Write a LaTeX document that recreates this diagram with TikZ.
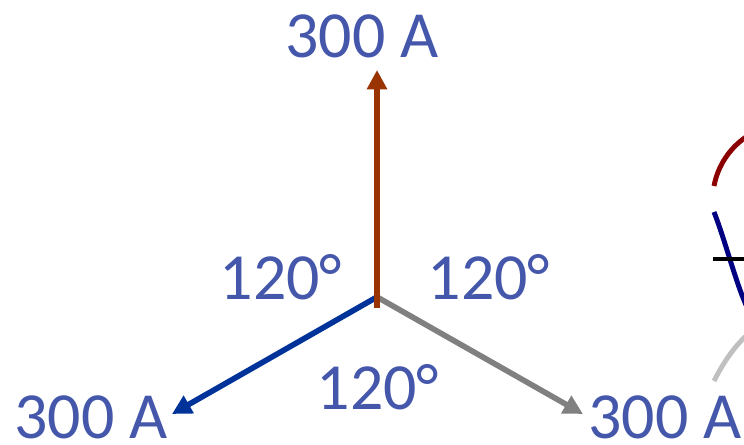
\documentclass[tikz,border=0pt]{standalone}
\usepackage{fontspec}
\setmainfont{Carlito}
\usepackage{tikz}
\usetikzlibrary{arrows.meta,positioning,calc}
\definecolor{figText}{HTML}{4457AA}
\definecolor{phaseA}{HTML}{993300}
\definecolor{phaseB}{HTML}{003399}
\definecolor{phaseC}{HTML}{808080}
\definecolor{iconRed}{HTML}{8B0000}
\definecolor{iconNavy}{HTML}{000080}
\definecolor{iconGrey}{HTML}{C0C0C0}

\begin{document}
\begin{tikzpicture}[
  x=0.02cm,y=-0.02cm,
  lbl/.style={text=figText,font=\fontsize{37.5}{40}\selectfont,inner sep=0pt},
  phasor/.style={line width=3.2pt,-{Triangle[length=11pt,width=11pt]}},
  icon/.style={line width=2.8pt}
]
\useasboundingbox (0,0) rectangle (744,445);
% ---- Star point and phasor tips ----
\coordinate (n)  at (377,297);
\coordinate (nb) at (377,308);
\coordinate (ta) at (377,70);
\coordinate (tb) at (172,414);
\coordinate (tc) at (583,414);

% ---- Phasors ----
\draw[phasor,phaseB] (n) -- (tb);
\draw[phasor,phaseC] (n) -- (tc);
\draw[phasor,phaseA] (nb) -- (ta);

% ---- Current labels ----
\node[lbl] (ia) at (362,36)  {300 A};
\node[lbl] (ib) at (91,417)  {300 A};
\node[lbl] (ic) at (665,417) {300 A};

% ---- Angle labels ----
\node[lbl] (g1) at (281,277) {120°};
\node[lbl] (g2) at (489,277) {120°};
\node[lbl] (g3) at (378,387) {120°};

% ---- Cut-off icon on the right edge ----
\begin{scope}
\clip (0,0) rectangle (744,445);
\draw[icon,iconRed]  (714,186) .. controls (718,165) and (730,148) .. (746,137);
\draw[icon,iconNavy] (714,212) .. controls (725,240) and (735,280) .. (746,305);
\draw[icon,black]    (713,259) -- (746,259);
\draw[icon,iconGrey] (714,381) .. controls (722,365) and (733,348) .. (746,336);
\end{scope}
\end{tikzpicture}
\end{document}
